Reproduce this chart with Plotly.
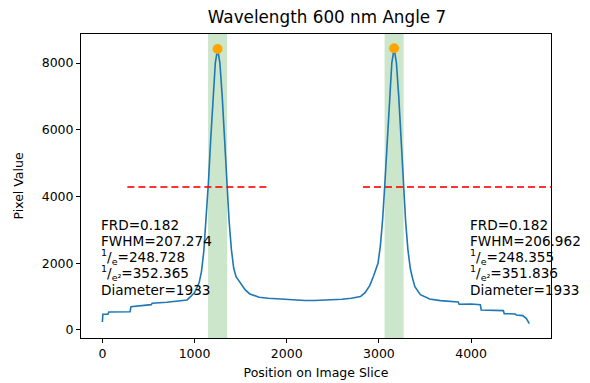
import plotly.graph_objects as go

# ---- data ----
position = [0, 5, 60, 70, 300, 310, 530, 540, 700, 850, 918, 954, 1000, 1050, 1075,
            1100, 1125, 1150, 1175, 1200, 1225, 1250, 1275, 1300, 1325, 1350, 1375,
            1400, 1425, 1450, 1500, 1550, 1600, 1700, 1800, 1900, 2000, 2100, 2200,
            2300, 2400, 2500, 2600, 2700, 2800, 2850, 2900, 2940, 2965, 2990, 3015,
            3040, 3065, 3090, 3115, 3140, 3165, 3190, 3215, 3240, 3265, 3290, 3315,
            3340, 3365, 3390, 3450, 3550, 3666, 3750, 3860, 3870, 4000, 4100, 4110,
            4350, 4360, 4480, 4490, 4560, 4570, 4600, 4631]
pixel_value = [240, 470, 470, 540, 545, 700, 760, 800, 830, 870, 900, 990, 1120, 1420, 1750,
               2350, 3250, 4400, 5700, 7000, 8000, 8420, 8000, 7000, 5700, 4400, 3250,
               2400, 1850, 1600, 1380, 1200, 1080, 980, 950, 930, 905, 895, 885,
               885, 890, 900, 920, 950, 1000, 1120, 1330, 1600, 1780, 2000, 2500,
               3300, 4400, 5700, 7000, 8000, 8440, 8000, 7000, 5700, 4400, 3250, 2400,
               1850, 1550, 1300, 1060, 930, 880, 860, 840, 770, 780, 760, 600,
               580, 490, 480, 450, 430, 400, 340, 190]

peak_x = [1250, 3165]
peak_y = [8420, 8440]
fwhm = [207.274, 206.962]

half_level = 4285
half_left = [271, 1804]
half_right = [2827, 4870]

text_x = [0, 4000]
text_y = 1000
frd = ["0.182", "0.182"]
fwhm_txt = ["207.274", "206.962"]
inv_e = ["248.728", "248.355"]
inv_e2 = ["352.365", "351.836"]
diameter = ["1933", "1933"]

x_ticks = [0, 1000, 2000, 3000, 4000]
y_ticks = [0, 2000, 4000, 6000, 8000]

FONT = "DejaVu Sans"
# the page body has an 8px margin, so the figure is drawn at (8, 8)
W, H = 582, 375

fig = go.Figure()

# green FWHM spans
for px, fw in zip(peak_x, fwhm):
    fig.add_vrect(x0=px - fw / 2, x1=px + fw / 2, fillcolor="rgba(0,128,0,0.2)",
                  line_width=0, layer="below")

fig.add_trace(go.Scatter(x=position, y=pixel_value, mode="lines",
                         line=dict(color="#1f77b4", width=1.6), showlegend=False))

for seg in (half_left, half_right):
    fig.add_trace(go.Scatter(x=seg, y=[half_level, half_level], mode="lines",
                             line=dict(color="rgba(255,0,0,0.8)", width=2, dash="7px,4px"),
                             showlegend=False))

fig.add_trace(go.Scatter(x=peak_x, y=peak_y, mode="markers",
                         marker=dict(color="orange", size=10), showlegend=False))

LINE_PITCH = 16.2
for i in range(2):
    lines = [f"Diameter={diameter[i]}",
             f"<sup>1</sup>/<sub>e²</sub>={inv_e2[i]}",
             f"<sup>1</sup>/<sub>e</sub>={inv_e[i]}",
             f"FWHM={fwhm_txt[i]}",
             f"FRD={frd[i]}"]
    for k, line in enumerate(lines):
        fig.add_annotation(x=text_x[i], y=text_y, text=line, showarrow=False,
                           xanchor="left", yanchor="middle", align="left",
                           xshift=-2, yshift=7 + LINE_PITCH * k, borderpad=0,
                           font=dict(family=FONT, size=13.6, color="black"))

axis_common = dict(showline=True, linecolor="black", linewidth=1, mirror=True,
                   ticks="outside", ticklen=4, tickcolor="black", showgrid=False,
                   zeroline=False, automargin=False,
                   tickfont=dict(family=FONT, size=12.5, color="black"))

fig.update_xaxes(range=[-232, 4867], tickvals=x_ticks,
                 title=dict(text="Position on Image Slice", standoff=8,
                            font=dict(family=FONT, size=12.5, color="black")),
                 **axis_common)
fig.update_yaxes(range=[-240, 8869], tickvals=y_ticks,
                 title=dict(text="Pixel Value", standoff=15,
                            font=dict(family=FONT, size=12.5, color="black")),
                 **axis_common)

fig.update_layout(
    width=W, height=H,
    margin=dict(l=73, r=39, t=26, b=45, autoexpand=False),
    plot_bgcolor="white", paper_bgcolor="white",
    title=dict(text="Wavelength 600 nm Angle 7", x=319 / W, xanchor="center",
               y=1 - 9 / H, yanchor="middle", yref="container",
               font=dict(family=FONT, size=16.8, color="black")),
)

fig.write_html("out.html")
